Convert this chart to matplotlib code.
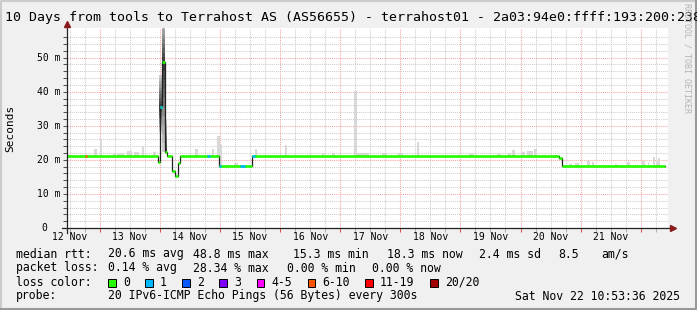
'''
Smokeping style latency graph: 10 days from tools to Terrahost AS.
'''

import numpy as np
import matplotlib
matplotlib.use('Agg')
import matplotlib.pyplot as plt
from matplotlib.patches import Rectangle

MONO = 'DejaVu Sans Mono'

# time axis in days counted from 12 Nov 2025 00:00
t_start = 10.893 / 24            # 12 Nov 10:53:36
t_end = t_start + 10
day_labels = ['12 Nov', '13 Nov', '14 Nov', '15 Nov', '16 Nov',
              '17 Nov', '18 Nov', '19 Nov', '20 Nov', '21 Nov']

# median rtt as a step function (start of each step, value in ms)
med_day = [0.454, 1.960, 1.993, 2.038, 2.082, 2.126, 2.205, 2.248, 2.304,
           2.331, 2.980, 3.536, 8.637, 8.694]
med_ms = [21.2, 19.5, 35.4, 48.8, 22.3, 21.2, 16.6, 15.3, 19.2,
          21.2, 18.3, 21.2, 20.6, 18.3]
med_end = 10.396

# steps with packet loss (index into loss_colors)
loss_start = [0.746, 1.993, 2.787, 2.980, 3.329, 3.536]
loss_end = [0.789, 2.038, 2.830, 3.020, 3.408, 3.574]
loss_class = [5, 1, 1, 1, 1, 1]

loss_names = ['0', '1', '2', '3', '4-5', '6-10', '11-19', '20/20']
loss_colors = ['#26ff00', '#00b8ff', '#0059ff', '#7e00ff',
               '#ff00ff', '#ff5500', '#ff0000', '#a10000']

# light smoke above the median (start, end, top in ms)
smoke_x0 = [0.900, 0.995, 1.223, 1.290, 1.456, 1.577, 1.705, 1.877, 2.576,
            2.870, 2.953, 2.992, 3.225, 3.574, 4.073, 4.700, 4.867, 5.226,
            5.283, 5.699, 5.965, 6.281, 7.151, 7.612, 7.784, 7.862, 8.028,
            8.111, 8.221, 8.799, 8.899, 9.110, 9.193, 9.564, 9.775, 10.025,
            10.113, 10.196, 10.246, 10.280]
smoke_x1 = [0.957, 1.040, 1.261, 1.399, 1.539, 1.649, 1.739, 1.927, 2.626,
            2.903, 2.992, 3.037, 3.291, 3.619, 4.118, 4.727, 4.905, 5.283,
            5.476, 5.782, 6.042, 6.319, 7.218, 7.667, 7.845, 7.905, 8.072,
            8.205, 8.278, 8.860, 8.970, 9.148, 9.220, 9.609, 9.814, 10.063,
            10.146, 10.230, 10.280, 10.313]
smoke_top = [23.2, 26.1, 22.0, 21.8, 22.7, 22.4, 24.2, 22.2, 23.2,
             23.2, 26.9, 24.4, 19.2, 23.2, 24.4, 22.1, 22.0, 40.1,
             22.1, 22.0, 22.1, 25.3, 21.8, 21.7, 22.0, 22.9, 22.2,
             22.7, 23.2, 18.8, 19.2, 19.8, 19.5, 18.8, 19.5, 19.8,
             19.5, 20.8, 19.5, 20.5]

# dense smoke around the spike on 13 Nov (start, end, lowest, highest ping)
spike_x0 = [1.982, 2.038, 2.082]
spike_x1 = [2.038, 2.082, 2.126]
spike_lo = [28.3, 22.3, 22.3]
spike_hi = [45.0, 62.0, 31.8]

stats_rtt = ['median rtt:', '20.6 ms avg', '48.8 ms max', '15.3 ms min',
             '18.3 ms now', '2.4 ms sd', '8.5', 'am/s']
stats_loss = ['packet loss:', '0.14 % avg', '28.34 % max', '0.00 % min',
              '0.00 % now']
probe_text = '20 IPv6-ICMP Echo Pings (56 Bytes) every 300s'
stamp_text = 'Sat Nov 22 10:53:36 2025'
title = ('10 Days from tools to Terrahost AS (AS56655) - terrahost01 - '
         '2a03:94e0:ffff:193:200:238')


def med_at(t):
    idx = np.searchsorted(med_day, t, side='right') - 1
    return med_ms[max(idx, 0)]


fig = plt.figure(figsize=(6.97, 3.10), dpi=100, facecolor='#f0f0f0')

# background layer in pixel coordinates for frame and text
bg = fig.add_axes([0, 0, 1, 1], zorder=0)
bg.set_xlim(0, 697)
bg.set_ylim(310, 0)
bg.axis('off')
bg.plot([0.7, 0.7, 697], [310, 0.7, 0.7], color='#cbcbcb', lw=1.5)
bg.plot([0, 696.3, 696.3], [309.3, 309.3, 0], color='#999999', lw=1.5)

ax = fig.add_axes([67 / 697, (310 - 228) / 310, 601 / 697, 200 / 310], zorder=1)
ax.set_facecolor('white')
ax.set_xlim(t_start, t_end)
ax.set_ylim(0, 58.7)

ax.set_xticks(np.arange(1, 11))
ax.set_xticks(np.arange(0.5, 10.5, 0.25), minor=True)
ax.set_yticks(np.arange(0, 51, 10))
ax.set_yticks(np.arange(0, 58, 2), minor=True)
ax.grid(which='major', color='#f4a4a4', ls=(0, (1, 1)), lw=0.75)
ax.grid(which='minor', color='#cccccc', ls=(0, (1, 1)), lw=0.75)
ax.set_axisbelow(True)
ax.tick_params(which='both', labelbottom=False, labelleft=False,
               direction='out', length=3, width=0.75)
ax.tick_params(axis='x', which='major', color='#e05050')
ax.tick_params(axis='x', which='minor', color='#b0b0b0')
ax.tick_params(axis='y', which='both', color='#555555')
for s in ax.spines.values():
    s.set_visible(False)

# smoke
smoke_base = np.array([med_at(x) for x in smoke_x0])
ax.bar(smoke_x0, np.array(smoke_top) - smoke_base,
       width=np.array(smoke_x1) - np.array(smoke_x0), bottom=smoke_base,
       align='edge', color='#d8d8d8', lw=0, zorder=2)

n_shades = 10
for x0, x1, lo, hi in zip(spike_x0, spike_x1, spike_lo, spike_hi):
    mid = med_at((x0 + x1) / 2)
    for k in range(n_shades):
        f = k / n_shades
        b = lo + (mid - lo) * f
        top = hi - (hi - mid) * f
        ax.bar(x0, top - b, width=x1 - x0, bottom=b, align='edge',
               color=str(0.80 - 0.62 * f), lw=0, zorder=2)

# median line: dark step underneath, loss coloured steps on top
ax.step(med_day + [med_end], med_ms + [med_ms[-1]], where='post',
        color='#202020', lw=0.9, zorder=3)
ax.hlines(med_ms, med_day, med_day[1:] + [med_end], colors=loss_colors[0],
          lw=1.9, zorder=4, capstyle='butt')
loss_y = [med_at((a + b) / 2) for a, b in zip(loss_start, loss_end)]
ax.hlines(loss_y, loss_start, loss_end,
          colors=[loss_colors[c] for c in loss_class],
          lw=1.9, zorder=5, capstyle='butt')

# axes with arrows
ax.plot([-0.008, 1.004], [0, 0], transform=ax.transAxes, color='#222222',
        lw=0.9, clip_on=False, zorder=6)
ax.plot([0, 0], [-0.025, 1.012], transform=ax.transAxes, color='#222222',
        lw=0.9, clip_on=False, zorder=6)
ax.plot([1.008], [0], marker='>', ms=4, color='#8b1a1a',
        transform=ax.transAxes, clip_on=False, zorder=7)
ax.plot([0], [1.022], marker='^', ms=4, color='#8b1a1a',
        transform=ax.transAxes, clip_on=False, zorder=7)

# tick labels
for i, lab in enumerate(day_labels):
    ax.text(i + 0.5, -0.047, lab, transform=ax.get_xaxis_transform(),
            ha='center', va='center', fontsize=7, family=MONO)
for v in range(0, 51, 10):
    ax.text(-0.0115, v, f'{v} m' if v else '0  ',
            transform=ax.get_yaxis_transform(),
            ha='right', va='center', fontsize=7, family=MONO)

bg.text(5, 17, title, ha='left', va='center', fontsize=9.5, family=MONO)
bg.text(10, 128, 'Seconds', rotation=90, ha='center', va='center',
        fontsize=8, family=MONO)
bg.text(687, 3, 'RRDTOOL / TOBI OETIKER', rotation=270, ha='center',
        va='top', fontsize=6, family=MONO, color='#b4b4b4')

# legend block
rtt_x = [16, 107.6, 193.3, 293.3, 386.7, 479, 558.7, 601]
loss_x = [16, 107.6, 193.3, 286.7, 372.4]
for x, s in zip(rtt_x, stats_rtt):
    bg.text(x, 254, s, ha='left', va='center', fontsize=8.3, family=MONO)
for x, s in zip(loss_x, stats_loss):
    bg.text(x, 268, s, ha='left', va='center', fontsize=8.3, family=MONO)

bg.text(16, 282, 'loss color:', ha='left', va='center', fontsize=8.3, family=MONO)
box_x = [108.3, 145.3, 182.3, 219.3, 256.5, 307.6, 365.3, 430.2]
for x, name, col in zip(box_x, loss_names, loss_colors):
    bg.add_patch(Rectangle((x, 278.5), 7.5, 8, fc=col, ec='black', lw=0.7))
    bg.text(x + 14.5, 282, name, ha='left', va='center', fontsize=8.3, family=MONO)

bg.text(16, 296, 'probe:', ha='left', va='center', fontsize=8.3, family=MONO)
bg.text(107.6, 296, probe_text, ha='left', va='center', fontsize=8.3, family=MONO)
bg.text(680, 296, stamp_text, ha='right', va='center', fontsize=8.3, family=MONO)

fig.savefig('out.png', dpi=100, facecolor=fig.get_facecolor())
